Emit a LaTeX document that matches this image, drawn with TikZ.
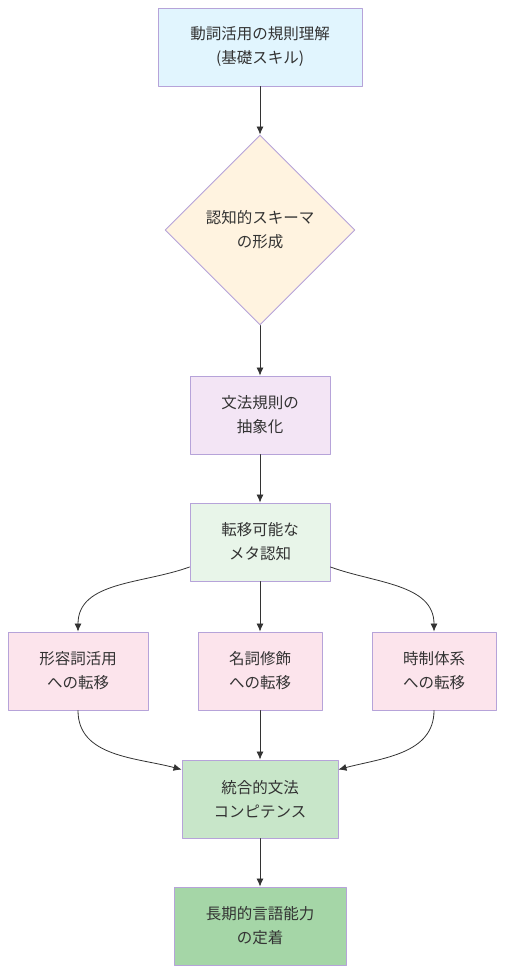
\documentclass[tikz,border=0pt]{standalone}
\usepackage{fontspec}
\setmainfont{Noto Sans CJK JP}
\usepackage{tikz}
\usetikzlibrary{shapes.geometric,arrows.meta}
\tikzset{>={Latex[length=8pt,width=7pt]}}
\definecolor{edgecol}{HTML}{333333}
\definecolor{linecol}{HTML}{B6A3D9}
\definecolor{rulefill}{HTML}{E1F5FE}
\definecolor{schemafill}{HTML}{FFF3E0}
\definecolor{abstfill}{HTML}{F3E5F5}
\definecolor{metafill}{HTML}{E8F5E9}
\definecolor{transfill}{HTML}{FCE4EC}
\definecolor{compfill}{HTML}{C8E6C9}
\definecolor{fixfill}{HTML}{A5D6A7}
\tikzset{
  box/.style={draw=linecol,line width=0.9pt,minimum height=78pt,align=center,
    text=edgecol,font=\fontsize{15.5}{24}\selectfont,inner sep=0pt},
  rhomb/.style={box,diamond,aspect=1,minimum width=190pt,minimum height=190pt},
  conn/.style={->,draw=edgecol,line width=0.8pt}
}

\begin{document}
\begin{tikzpicture}[x=1pt,y=-1pt,line cap=round,line join=round]
			\useasboundingbox (0,0) rectangle (504,974);
			% nodes
			\node[box,fill=rulefill,minimum width=204pt] (rule) at (260,47) {動詞活用の規則理解\\(基礎スキル)};
			\node[rhomb,fill=schemafill] (schema) at (260,230) {認知的スキーマ\\の形成};
			\node[box,fill=abstfill,minimum width=140pt] (abst) at (260,415) {文法規則の\\抽象化};
			\node[box,fill=metafill,minimum width=140pt] (meta) at (260,542) {転移可能な\\メタ認知};
			\node[box,fill=transfill,minimum width=140pt] (adj) at (78,671) {形容詞活用\\への転移};
			\node[box,fill=transfill,minimum width=124pt] (noun) at (260,671) {名詞修飾\\への転移};
			\node[box,fill=transfill,minimum width=124pt] (tense) at (434,671) {時制体系\\への転移};
			\node[box,fill=compfill,minimum width=156pt] (comp) at (260,799) {統合的文法\\コンピテンス};
			\node[box,fill=fixfill,minimum width=172pt] (fix) at (260,926) {長期的言語能力\\の定着};
			% straight connectors
			\draw[conn] (rule) -- (schema);
			\draw[conn] (schema) -- (abst);
			\draw[conn] (abst) -- (meta);
			\draw[conn] (meta) -- (noun);
			\draw[conn] (noun) -- (comp);
			\draw[conn] (comp) -- (fix);
			% curved connectors
			\draw[conn] ([yshift=-25pt]meta.west) to[out=200,in=90] (adj.north);
			\draw[conn] ([yshift=-25pt]meta.east) to[out=-20,in=90] (tense.north);
			\draw[conn] (adj.south) to[out=-90,in=165] ([yshift=-10pt]comp.north west);
			\draw[conn] (tense.south) to[out=-90,in=15] ([yshift=-10pt]comp.north east);
		\end{tikzpicture}
\end{document}
